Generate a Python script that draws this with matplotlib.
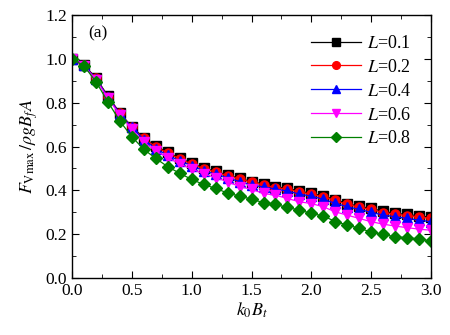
import matplotlib
matplotlib.use("Agg")
import matplotlib.pyplot as plt
import numpy as np
from matplotlib.ticker import MultipleLocator

plt.rcParams['font.family'] = ['Liberation Serif', 'DejaVu Serif']
plt.rcParams['mathtext.fontset'] = 'stix'

# k0*Bt values
kb = [0.0, 0.1, 0.2, 0.3, 0.4, 0.5, 0.6, 0.7, 0.8, 0.9, 1.0,
      1.1, 1.2, 1.3, 1.4, 1.5, 1.6, 1.7, 1.8, 1.9, 2.0,
      2.1, 2.2, 2.3, 2.4, 2.5, 2.6, 2.7, 2.8, 2.9, 3.0]

L01 = [1.0, 0.972, 0.914, 0.830, 0.754, 0.690, 0.640, 0.602, 0.573, 0.547, 0.523,
       0.502, 0.487, 0.470, 0.455, 0.440, 0.429, 0.417, 0.409, 0.397, 0.386,
       0.374, 0.358, 0.340, 0.327, 0.318, 0.304, 0.296, 0.290, 0.284, 0.278]
L02 = [1.0, 0.970, 0.912, 0.828, 0.752, 0.688, 0.637, 0.599, 0.570, 0.544, 0.520,
       0.499, 0.484, 0.467, 0.452, 0.437, 0.425, 0.413, 0.405, 0.393, 0.382,
       0.370, 0.354, 0.336, 0.323, 0.313, 0.299, 0.291, 0.285, 0.279, 0.272]
L04 = [1.0, 0.970, 0.910, 0.826, 0.750, 0.687, 0.632, 0.590, 0.560, 0.535, 0.513,
       0.490, 0.474, 0.458, 0.440, 0.424, 0.416, 0.406, 0.397, 0.383, 0.374,
       0.359, 0.341, 0.325, 0.313, 0.300, 0.287, 0.280, 0.272, 0.264, 0.257]
L06 = [1.0, 0.968, 0.906, 0.820, 0.745, 0.680, 0.620, 0.580, 0.550, 0.520, 0.498,
       0.475, 0.458, 0.440, 0.417, 0.405, 0.386, 0.378, 0.363, 0.348, 0.340,
       0.325, 0.302, 0.287, 0.272, 0.257, 0.246, 0.237, 0.230, 0.223, 0.218]
L08 = [1.0, 0.968, 0.896, 0.804, 0.716, 0.645, 0.587, 0.546, 0.508, 0.478, 0.450,
       0.427, 0.409, 0.388, 0.374, 0.360, 0.344, 0.336, 0.322, 0.310, 0.295,
       0.283, 0.258, 0.242, 0.227, 0.210, 0.199, 0.188, 0.185, 0.178, 0.169]

series = [
    (L01, 'black', 's', r'$L$=0.1'),
    (L02, 'red', 'o', r'$L$=0.2'),
    (L04, 'blue', '^', r'$L$=0.4'),
    (L06, 'magenta', 'v', r'$L$=0.6'),
    (L08, 'green', 'D', r'$L$=0.8'),
]

fig = plt.figure(figsize=(4.5, 3.35), dpi=100)
ax = fig.add_axes([0.16, 0.17, 0.798, 0.785])

for vals, col, mk, lab in series:
    ms = 5.8 if mk == 'D' else 6.5
    ax.plot(kb, vals, color=col, marker=mk, markersize=ms, lw=0.9,
            markeredgecolor=col, label=lab)

ax.set_xlim(0, 3.0)
ax.set_ylim(0, 1.2)
ax.xaxis.set_major_locator(MultipleLocator(0.5))
ax.xaxis.set_minor_locator(MultipleLocator(0.25))
ax.yaxis.set_major_locator(MultipleLocator(0.2))
ax.yaxis.set_minor_locator(MultipleLocator(0.1))
ax.xaxis.set_major_formatter(plt.FormatStrFormatter('%.1f'))
ax.yaxis.set_major_formatter(plt.FormatStrFormatter('%.1f'))
ax.tick_params(which='both', direction='in', top=True, right=True, labelsize=12.5)
ax.tick_params(which='major', length=5)
ax.tick_params(which='minor', length=3)
for sp in ax.spines.values():
    sp.set_linewidth(1.0)

ax.set_xlabel(r'$k_0B_t$', fontsize=13, labelpad=1)
ax.set_ylabel(r'$F_{\mathrm{Vmax}}\,/\rho gB_fA$', fontsize=13, labelpad=4)
ax.text(0.045, 0.915, '(a)', transform=ax.transAxes, fontsize=12.5)

leg = ax.legend(loc='upper right', frameon=False, fontsize=13, handlelength=2.8,
                handletextpad=0.3, labelspacing=0.38, borderaxespad=0.7,
                markerscale=0.85)

fig.savefig('out.png', dpi=100)
